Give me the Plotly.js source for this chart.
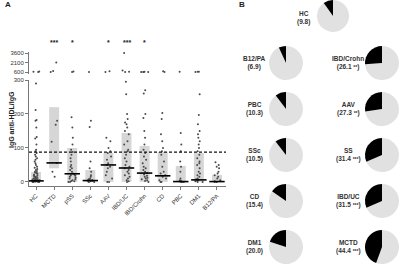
<!DOCTYPE html>
<html><head><meta charset="utf-8">
<script src="https://cdn.plot.ly/plotly-3.0.1.min.js"></script>
<style>html,body{margin:0;padding:0;background:#fff}#c{width:400px;height:265px}</style>
</head><body><div id="c"></div>
<script>
// ---- data ----
const categories = ['HC','MCTD','pSS','SSc','AAV','IBD/UC','IBD/Crohn','CD','PBC','DM1','B12/PA'];
const barLow  = [0, 40, 0, 0, 0, 0, 0, 0, 0, 0, 0];
const barHigh = [29, 220, 100, 35, 85, 144, 106, 88, 47, 85, 21];
const medians = [3, 56, 24, 4, 50, 41, 26, 18, 1, 6, 1];
const cutoff = 88;
const signif = ['', '***', '*', '', '*', '***', '*', '', '', '', ''];

// individual values, lower scale (0-300)
const ptsHC = [290,212,182,180,160,132,128,110,95,90,85,80,75,70,65,60,55,50,45,42,38,35,32,30,28,26,25,22,20,18,16,15,14,12,11,10,9,8,8,7,6,6,5,5,4,4,3,3,3,2,2,2,1,1,1,0,0,0,0];
const ptsMCTD = [180,168,118,56,30,15];
const ptsPSS = [190,160,130,110,95,88,80,70,60,50,45,40,35,30,25,22,20,18,15,12,10,8,5,3,2,0,0];
const ptsSSC = [180,162,60,40,30,20,15,10,8,6,5,4,3,2,1,0,0];
const ptsAAV = [130,120,100,90,85,75,65,55,50,45,40,30,20,10,0,0];
const ptsUC = [295,258,200,185,175,170,160,150,140,120,110,95,90,80,70,60,50,45,40,35,30,25,20,15,10,5,2,0];
const ptsCrohn = [270,260,200,188,150,130,110,95,85,75,65,55,45,40,35,30,26,22,18,15,12,10,8,5,3,0];
const ptsCD = [203,185,140,120,100,90,80,60,45,30,25,20,15,10,5,0,0];
const ptsPBC = [144,110,90,60,45,30,10,5,3,2,1,0,0,0];
const ptsDM1 = [258,197,170,150,140,130,120,110,100,90,80,70,60,55,50,40,30,25,20,15,10,8,6,4,2,0,0];
const ptsB12 = [58,50,45,40,30,25,20,15,10,5,2,0,0];
// individual values, upper scale (600-3600)
const upHC = [600,630,660];
const upMCTD = [2100,760,600];
const upPSS = [600,680];
const upSSC = [610];
const upAAV = [600,720];
const upUC = [3600,850,620,600];
const upCrohn = [600,605,610,615,620];
const upCD = [600,700];
const upPBC = [620];
const upDM1 = [600,620,640];
const upB12 = [];

// pie panel
const pieNames = ['HC','B12/PA','PBC','SSc','CD','DM1','IBD/Crohn','AAV','SS','IBD/UC','MCTD'];
const piePct   = [9.8, 6.9, 10.3, 10.5, 15.4, 20.0, 26.1, 27.3, 31.4, 31.5, 44.4];
const pieSig   = ['', '', '', '', '', '', '**', '**', '***', '***', '***'];

// ---- layout helpers (pixel positions) ----
const W = 400, H = 265;
const px = v => v / W, py = v => (H - v) / H;
const font = 'Liberation Sans, Arial, sans-serif';

const lowSets = [ptsHC,ptsMCTD,ptsPSS,ptsSSC,ptsAAV,ptsUC,ptsCrohn,ptsCD,ptsPBC,ptsDM1,ptsB12];
const upSets = [upHC,upMCTD,upPSS,upSSC,upAAV,upUC,upCrohn,upCD,upPBC,upDM1,upB12];
function flatten(sets){
  const xs=[], ys=[];
  sets.forEach((s,i)=>s.forEach(v=>{xs.push(categories[i]); ys.push(v);}));
  return {xs, ys};
}
const low = flatten(lowSets), up = flatten(upSets);

const traces = [];
traces.push({type:'bar', x:categories, y:barHigh.map((h,i)=>h-barLow[i]), base:barLow,
  width:0.55, marker:{color:'#d6d6d6', line:{width:0}}, hoverinfo:'skip', xaxis:'x', yaxis:'y'});
const boxCommon = {type:'box', boxpoints:'all', jitter:0.75, pointpos:0, width:0.6,
  fillcolor:'rgba(0,0,0,0)', line:{color:'rgba(0,0,0,0)', width:0}, whiskerwidth:0,
  marker:{size:2, color:'#4a4a4a'}, hoverinfo:'skip', xaxis:'x'};
traces.push(Object.assign({}, boxCommon, {x:low.xs, y:low.ys, yaxis:'y'}));
traces.push(Object.assign({}, boxCommon, {x:up.xs, y:up.ys, yaxis:'y2'}));
traces.push({type:'scatter', mode:'markers', x:categories, y:medians, xaxis:'x', yaxis:'y',
  marker:{symbol:'line-ew', size:11, line:{width:1.6, color:'#000'}, color:'#000'}, hoverinfo:'skip'});

// pies: centers (px) and radius
const pieCenters = [[333,16],[286,63],[286,109],[286,155],[286,201],[286,247],
                    [382,63],[382,109],[382,155],[382,201],[382,247]];
const labelX = [303,255,255,255,255,255,348,348,348,348,348];
pieNames.forEach((n,i)=>{
  const [cx,cy] = pieCenters[i]; const r = (i===0)?16:17;
  traces.push({type:'pie', values:[100-piePct[i], piePct[i]], sort:false, direction:'clockwise',
    rotation:0, textinfo:'none', hoverinfo:'skip', showlegend:false,
    marker:{colors:['#e1e1e1','#000000'], line:{width:0}},
    domain:{x:[px(cx-r), px(cx+r)], y:[Math.max(0,py(cy+r)), Math.min(1,py(cy-r))]}});
});

const annotations = [];
annotations.push({text:'<b>A</b>', xref:'paper', yref:'paper', x:px(3), y:py(5), xanchor:'left', yanchor:'middle', showarrow:false, font:{family:font, size:8, color:'#222'}});
annotations.push({text:'<b>B</b>', xref:'paper', yref:'paper', x:px(237), y:py(5), xanchor:'left', yanchor:'middle', showarrow:false, font:{family:font, size:8, color:'#222'}});
annotations.push({text:'<b>IgG anti-HDL/IgG</b>', xref:'paper', yref:'paper', x:px(6), y:py(120), textangle:-90, showarrow:false, font:{family:font, size:7, color:'#222'}});
signif.forEach((s,i)=>{ if(s) annotations.push({text:'<b>'+s+'</b>', xref:'x', yref:'paper', x:categories[i], y:py(43), yanchor:'middle', showarrow:false, font:{family:font, size:7, color:'#222'}}); });
pieNames.forEach((n,i)=>{
  const sig = pieSig[i] ? ' <span style="font-size:5px">'+pieSig[i]+'</span>' : '';
  annotations.push({text:'<b>'+n+'<br>('+piePct[i].toFixed(1)+sig+')</b>', xref:'paper', yref:'paper',
    x:px(labelX[i]), y:py(pieCenters[i][1] + (i===0?2.5:0)), xanchor:'center', yanchor:'middle', showarrow:false,
    align:'center', font:{family:font, size:6.5, color:'#333'}});
});

const axCommon = {showline:true, linecolor:'#777', linewidth:1, ticks:'outside', ticklen:3, tickcolor:'#777',
  showgrid:false, zeroline:false, tickfont:{family:font, size:6, color:'#333'}};
const layout = {
  width:W, height:H, margin:{l:0,r:0,t:0,b:0}, paper_bgcolor:'#fff', plot_bgcolor:'rgba(0,0,0,0)',
  showlegend:false, barmode:'overlay', boxmode:'overlay',
  xaxis: Object.assign({}, axCommon, {domain:[px(29), px(226)], range:[-0.39,10.5], type:'category',
    categoryorder:'array', categoryarray:categories, tickangle:-45, anchor:'y'}),
  yaxis: Object.assign({}, axCommon, {domain:[py(186), py(80)], range:[-12,300], tickvals:[0,100,200,300], anchor:'x'}),
  yaxis2: Object.assign({}, axCommon, {domain:[py(74), py(52)], range:[284,3758], tickvals:[600,2100,3600], anchor:'x'}),
  shapes:[{type:'line', xref:'x domain', x0:0, x1:1, yref:'y', y0:cutoff, y1:cutoff, line:{dash:'3px,2px', width:1.3, color:'#111'}}],
  annotations
};
Plotly.newPlot('c', traces, layout, {staticPlot:true, displayModeBar:false});
</script></body></html>
